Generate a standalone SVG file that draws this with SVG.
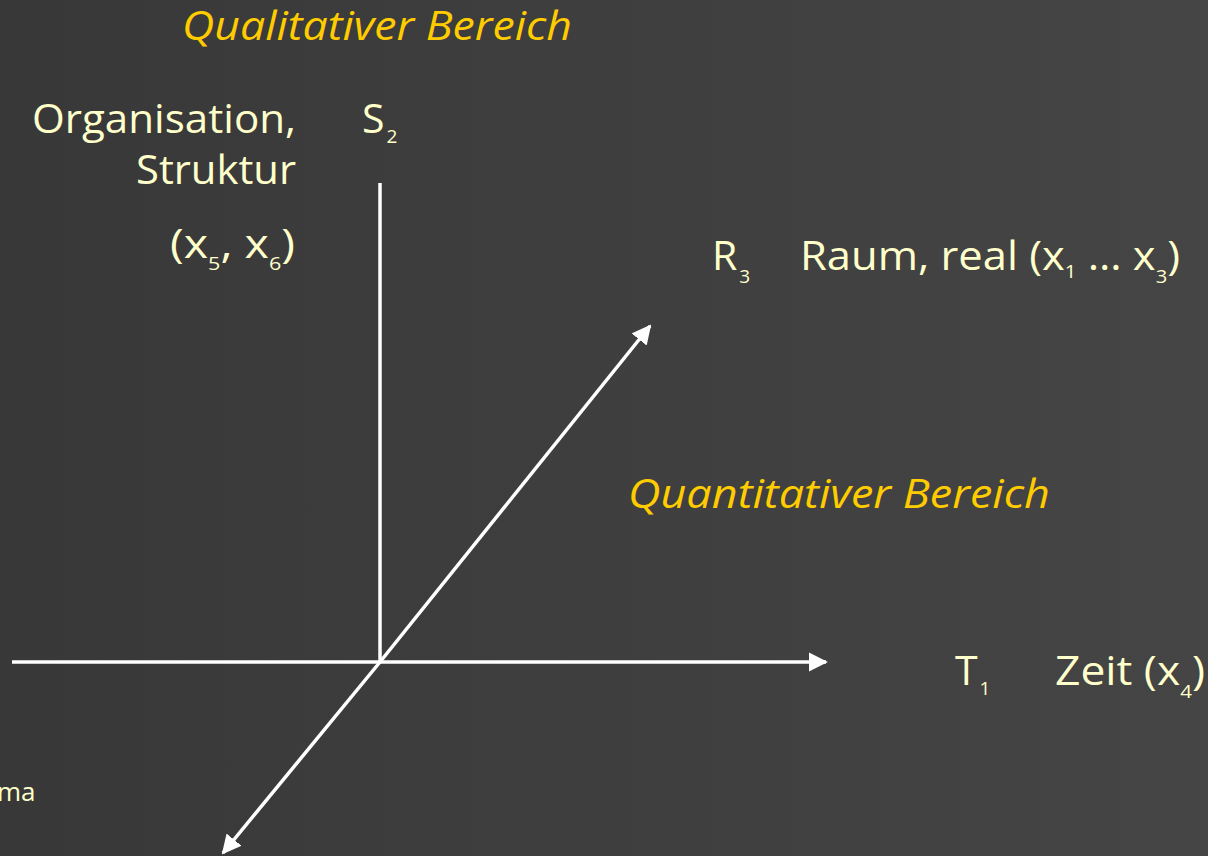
<svg xmlns="http://www.w3.org/2000/svg" width="1208" height="856" viewBox="0 0 1208 856">
<defs>
<linearGradient id="bg" x1="0" y1="0" x2="1" y2="0">
<stop offset="0" stop-color="#383838"/>
<stop offset="1" stop-color="#454545"/>
</linearGradient>
<marker id="ah" viewBox="0 0 10 10" refX="9" refY="5" markerWidth="5.5" markerHeight="5.5" markerUnits="strokeWidth" orient="auto">
<path d="M0,0 L10,5 L0,10 z" fill="#ffffff"/>
</marker>
<style>
.t{font-family:"Open Sans","Noto Sans","Liberation Sans",sans-serif;fill:#ffffcc;font-size:41px}
.y{font-family:"Open Sans","Noto Sans","Liberation Sans",sans-serif;fill:#ffcc00;font-size:41px;font-style:italic}
.s{font-size:19px}
.ax{stroke:#ffffff;stroke-width:3.5;fill:none}
</style>
</defs>
<rect x="0" y="0" width="1208" height="856" fill="url(#bg)"/>
<g id="connectors">
<line class="ax" x1="380" y1="183" x2="380" y2="662"/>
<line class="ax" x1="12" y1="662" x2="826" y2="662" marker-end="url(#ah)"/>
<line class="ax" x1="380" y1="662" x2="650" y2="326" marker-end="url(#ah)"/>
<line class="ax" x1="380" y1="662" x2="223" y2="853" marker-end="url(#ah)"/>
</g>
<g id="qualitativ"><text class="y" x="182" y="40" textLength="390" lengthAdjust="spacingAndGlyphs">Qualitativer Bereich</text></g>
<g id="organisation">
<text class="t" x="32" y="133" textLength="264" lengthAdjust="spacingAndGlyphs">Organisation,</text>
<text class="t" x="136" y="184" textLength="160" lengthAdjust="spacingAndGlyphs">Struktur</text>
<text class="t" x="170" y="258" textLength="125" lengthAdjust="spacingAndGlyphs">(x<tspan class="s" dy="12">5</tspan><tspan dy="-12">, x</tspan><tspan class="s" dy="12">6</tspan><tspan dy="-12">)</tspan></text>
</g>
<g id="s2"><text class="t" x="362" y="133">S<tspan class="s" dx="2" dy="10">2</tspan></text></g>
<g id="r3">
<text class="t" x="712" y="270">R<tspan class="s" dx="2" dy="13">3</tspan></text>
<text class="t" x="800" y="270" textLength="380" lengthAdjust="spacingAndGlyphs">Raum, real (x<tspan class="s" dy="8">1</tspan><tspan dy="-8"> … x</tspan><tspan class="s" dy="13">3</tspan><tspan dy="-13">)</tspan></text>
</g>
<g id="quantitativ"><text class="y" x="628" y="508" textLength="422" lengthAdjust="spacingAndGlyphs">Quantitativer Bereich</text></g>
<g id="t1">
<text class="t" x="955" y="685">T<tspan class="s" dx="2" dy="10">1</tspan></text>
<text class="t" x="1055" y="685" textLength="150" lengthAdjust="spacingAndGlyphs">Zeit (x<tspan class="s" dy="13">4</tspan><tspan dy="-13">)</tspan></text>
</g>
<g id="ma"><text class="t" style="font-size:26px" x="-3" y="801">ma</text></g>
</svg>
